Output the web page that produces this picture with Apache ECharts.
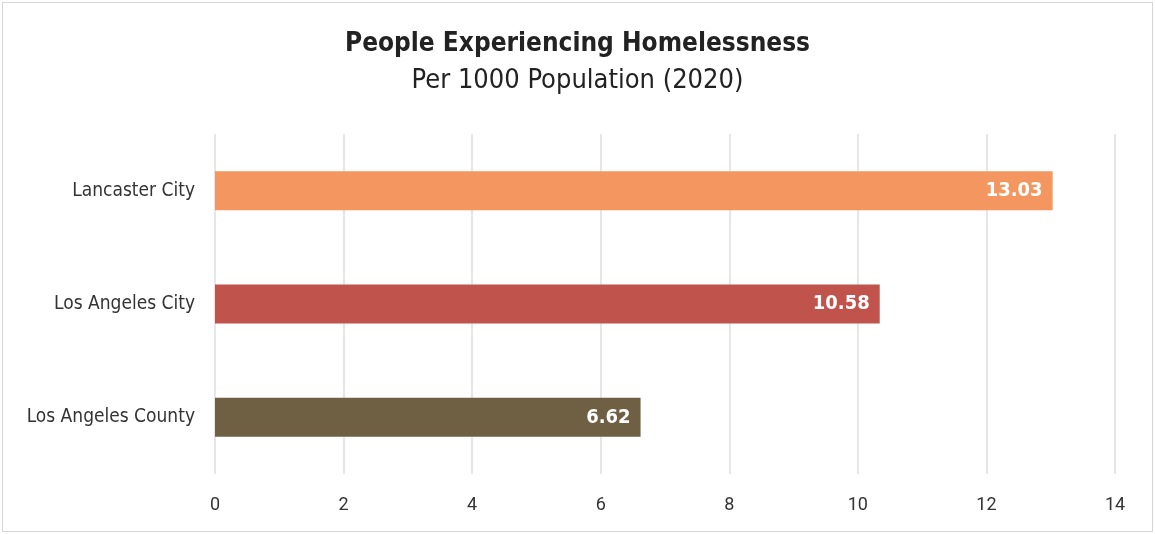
<!DOCTYPE html>
<html><head><meta charset="utf-8">
<script src="https://cdn.jsdelivr.net/npm/echarts@6/dist/echarts.min.js"></script>
<style>html,body{margin:0;padding:0;background:#fff}
#c{width:1155px;height:534px;}
#frame{position:absolute;left:2px;top:2px;width:1149px;height:528px;border:1px solid #d6d6d6;pointer-events:none}
</style></head>
<body><div id="c"></div><div id="frame"></div>
<script>
const categories = ["Los Angeles County", "Los Angeles City", "Lancaster City"];
const barValues = [6.62, 10.34, 13.03];
const valueLabels = ["6.62", "10.58", "13.03"];
const barColors = ["#6F6043", "#C0534B", "#F4965F"];
const titleText = "People Experiencing Homelessness";
const subtitleText = "Per 1000 Population (2020)";
const narrow = "'Liberation Sans Narrow','DejaVu Sans Condensed','Roboto Condensed',sans-serif";
const chart = echarts.init(document.getElementById('c'));
chart.setOption({
  animation:false,
  title:{text:titleText, subtext:subtitleText, left:'center', top:26, itemGap:10,
    textStyle:{fontFamily:narrow, fontWeight:'bold', fontSize:26, color:'#222'},
    subtextStyle:{fontFamily:narrow, fontSize:27, color:'#222'}},
  grid:{left:215, right:40, top:134, bottom:60},
  xAxis:{type:'value', min:0, max:14, interval:2,
    axisLine:{show:false}, axisTick:{show:false},
    splitLine:{lineStyle:{color:'#dedede', width:1.5}},
    axisLabel:{fontFamily:'Roboto', fontSize:18, color:'#333', margin:22}},
  yAxis:{type:'category', data:categories,
    axisLine:{show:false}, axisTick:{show:false},
    axisLabel:{fontFamily:narrow, fontSize:19, color:'#333', margin:20}},
  series:[{type:'bar', barWidth:39,
    data:barValues.map((v,i)=>({value:v, itemStyle:{color:barColors[i]}})),
    label:{show:true, position:'insideRight', distance:10, color:'#fff', fontWeight:'bold',
      fontFamily:narrow, fontSize:20, formatter:p=>valueLabels[p.dataIndex]}}]
});
</script></body></html>
